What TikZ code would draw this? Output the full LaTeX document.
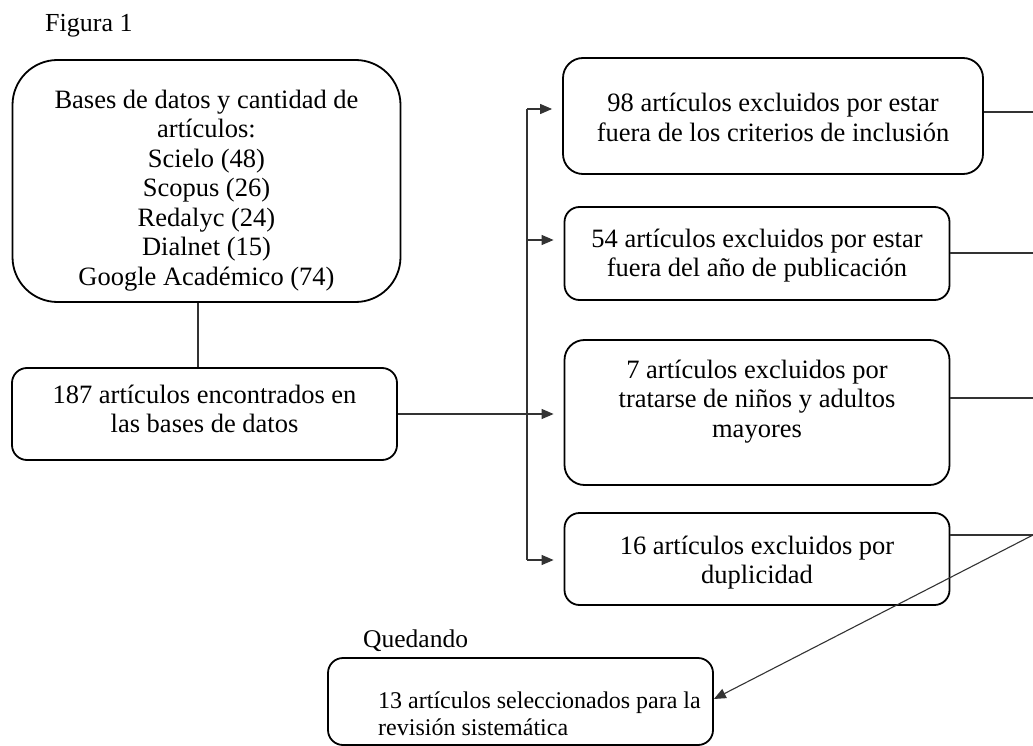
\documentclass[tikz,border=0pt]{standalone}
\usepackage{fontspec}
\setmainfont{Liberation Serif}
\usetikzlibrary{arrows.meta}
\newcommand{\tp}[1]{\rule{0pt}{#1pt}}
\newcommand{\bt}[1]{\rule[-#1pt]{0pt}{0pt}}
\begin{document}
\begin{tikzpicture}[x=1pt,y=-1pt,
  box/.style={draw=black,line width=1.8pt,align=center,inner sep=0pt,
    font=\fontsize{26.5}{29.5}\selectfont},
  lbl/.style={inner sep=0pt,anchor=base west,font=\fontsize{26}{29}\selectfont},
  conn/.style={draw=black!80,line width=1.1pt},
  arr/.style={conn,-{Triangle[length=12pt,width=10pt]}}]
\useasboundingbox (0,0) rectangle (1033,746);
\node[lbl] (fig) at (45,32) {Figura 1};
\node[box,rounded corners=45pt,minimum width=388pt,minimum height=242pt] (bases) at (206.5,181)
 {\tp{37}Bases de datos y cantidad de\\artículos:\\Scielo (48)\\Scopus (26)\\Redalyc (24)\\Dialnet (15)\\Google Académico (74)\bt{6}};
\node[box,rounded corners=15pt,minimum width=385pt,minimum height=92pt] (found) at (204.5,414)
 {\tp{20}187 artículos encontrados en\\las bases de datos\bt{12.5}};
\node[box,rounded corners=20pt,minimum width=420pt,minimum height=116pt] (b1) at (773,116)
 {\tp{27.5}98 artículos excluidos por estar\\fuera de los criterios de inclusión\bt{6}};
\node[box,rounded corners=15pt,minimum width=385pt,minimum height=93pt] (b2) at (757,253.5)
 {\tp{22.5}54 artículos excluidos por estar\\fuera del año de publicación\bt{6}};
\node[box,rounded corners=20pt,minimum width=385pt,minimum height=145pt] (b3) at (757,412.5)
 {\tp{20}7 artículos excluidos por\\tratarse de niños y adultos\\mayores\bt{30}};
\node[box,rounded corners=15pt,minimum width=385pt,minimum height=92pt] (b4) at (757,559)
 {\tp{25.5}16 artículos excluidos por\\duplicidad\bt{6}};
\node[box,rounded corners=15pt,minimum width=385pt,minimum height=87pt,align=left,
  font=\fontsize{24}{27}\selectfont] (sel) at (520.5,701.5)
 {\hspace*{38pt}\tp{45}13 artículos seleccionados para la\\\hspace*{38pt}revisión sistemática\bt{5}};
\node[lbl,font=\fontsize{25.5}{29}\selectfont] (qued) at (363,647) {Quedando};
% junction coordinates
\coordinate (j1) at (527,109);
\coordinate (j2) at (527,240);
\coordinate (j3) at (527,414);
\coordinate (j4) at (527,560);
\coordinate (r1) at (1033,112);
\coordinate (r2) at (1033,253);
\coordinate (r3) at (1033,398);
\coordinate (r4) at (1033,535);
% connectors
\draw[conn] (found.north -| 198,0) -- (bases.south -| 198,0);
\draw[conn] (found.east) -- (j3);
\draw[conn] (j1) -- (j4);
\draw[arr,shorten >=10pt] (j1) -- (j1 -| b1.west);
\draw[arr,shorten >=10pt] (j2) -- (j2 -| b2.west);
\draw[arr,shorten >=10pt] (j3) -- (j3 -| b3.west);
\draw[arr,shorten >=10pt] (j4) -- (j4 -| b4.west);
\draw[conn] (r1 -| b1.east) -- (r1);
\draw[conn] (r2 -| b2.east) -- (r2);
\draw[conn] (r3 -| b3.east) -- (r3);
\draw[conn] (r4 -| b4.east) -- (r4);
\draw[arr] (r4) -- (sel.east |- 0,699);
\end{tikzpicture}
\end{document}
